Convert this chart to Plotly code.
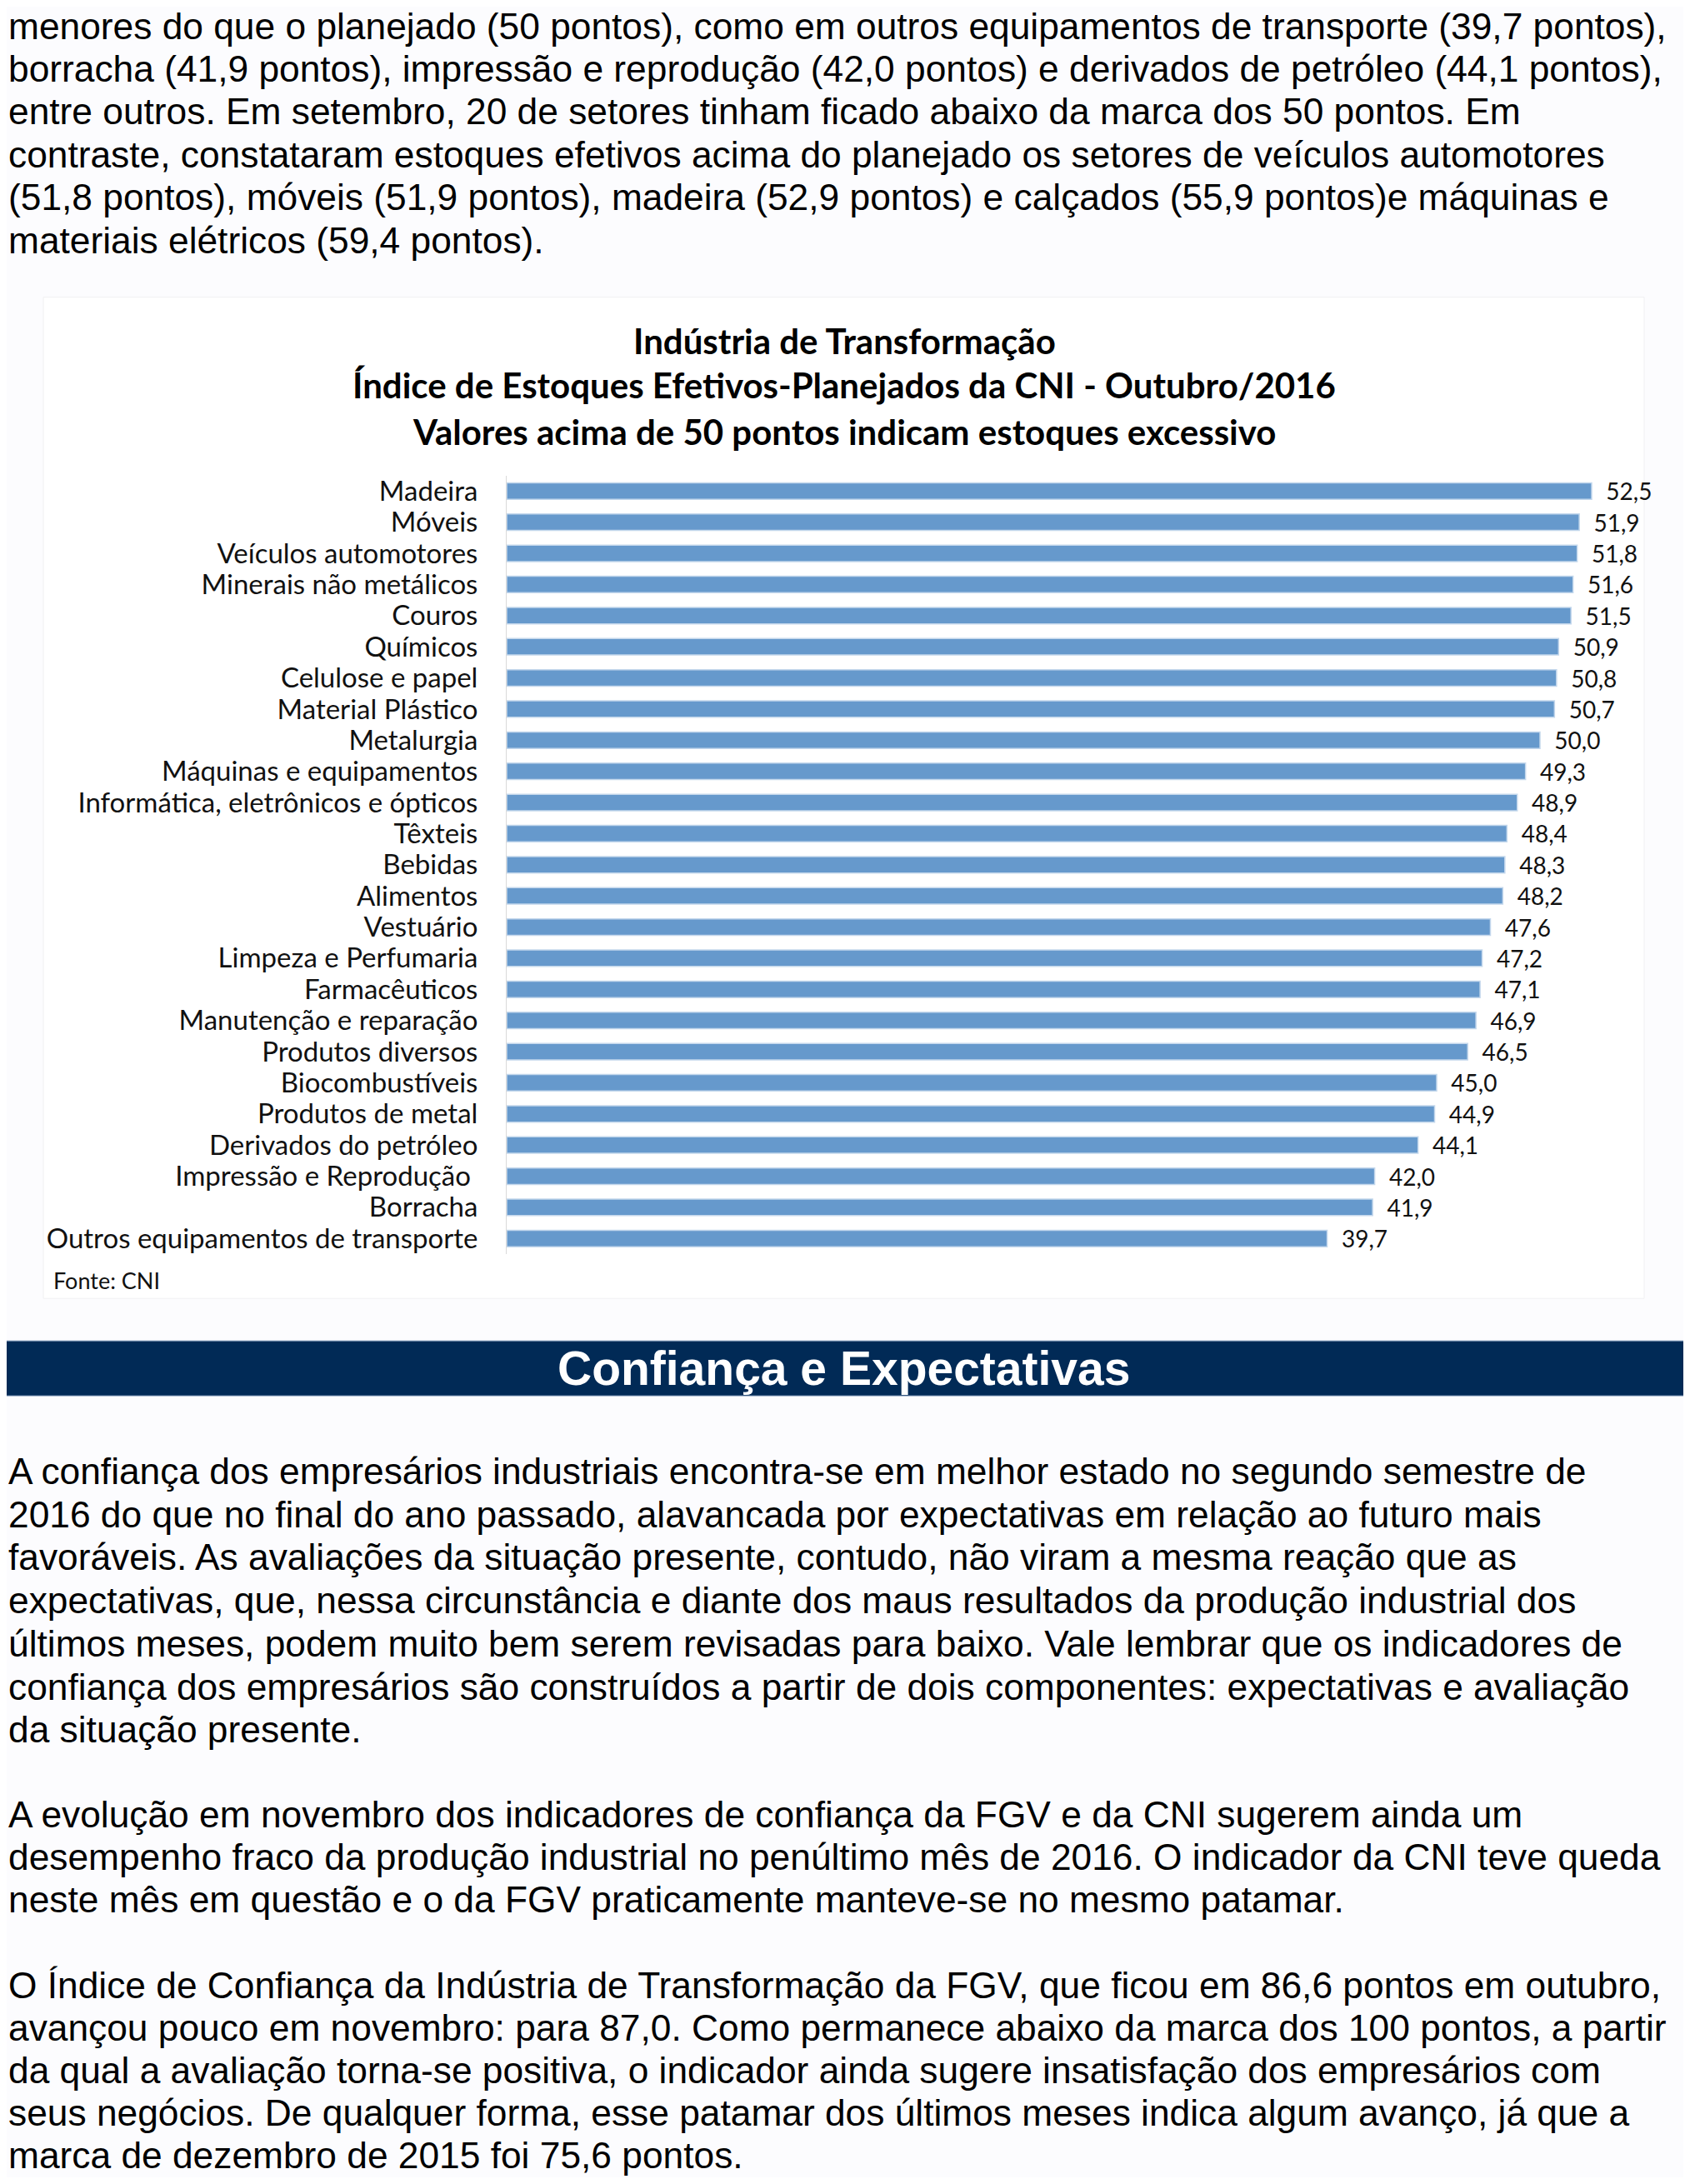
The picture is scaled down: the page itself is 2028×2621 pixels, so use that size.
import plotly.graph_objects as go

# page coordinates (reference pixels); the browser body adds an 8px margin
PAGE_W, PAGE_H = 2028, 2621
OFF = 8
W, H = PAGE_W - 2 * OFF, PAGE_H - 2 * OFF

categories = [
    "Madeira", "Móveis", "Veículos automotores", "Minerais não metálicos", "Couros",
    "Químicos", "Celulose e papel", "Material Plástico", "Metalurgia",
    "Máquinas e equipamentos", "Informática, eletrônicos e ópticos", "Têxteis",
    "Bebidas", "Alimentos", "Vestuário", "Limpeza e Perfumaria", "Farmacêuticos",
    "Manutenção e reparação", "Produtos diversos", "Biocombustíveis",
    "Produtos de metal", "Derivados do petróleo", "Impressão e Reprodução ",
    "Borracha", "Outros equipamentos de transporte",
]
values = [52.5, 51.9, 51.8, 51.6, 51.5, 50.9, 50.8, 50.7, 50.0, 49.3, 48.9, 48.4,
          48.3, 48.2, 47.6, 47.2, 47.1, 46.9, 46.5, 45.0, 44.9, 44.1, 42.0, 41.9, 39.7]

chart_title = [
    "Indústria de Transformação",
    "Índice de Estoques Efetivos-Planejados da CNI - Outubro/2016",
    "Valores acima de 50 pontos indicam estoques excessivo",
]
source_note = "Fonte: CNI"
section_title = "Confiança e Expectativas"

top_para = [
    "menores do que o planejado (50 pontos), como em outros equipamentos de transporte (39,7 pontos),",
    "borracha (41,9 pontos), impressão e reprodução (42,0 pontos) e derivados de petróleo (44,1 pontos),",
    "entre outros. Em setembro, 20 de setores tinham ficado abaixo da marca dos 50 pontos. Em",
    "contraste, constataram estoques efetivos acima do planejado os setores de veículos automotores",
    "(51,8 pontos), móveis (51,9 pontos), madeira (52,9 pontos) e calçados (55,9 pontos)e máquinas e",
    "materiais elétricos (59,4 pontos).",
]
para1 = [
    "A confiança dos empresários industriais encontra-se em melhor estado no segundo semestre de",
    "2016 do que no final do ano passado, alavancada por expectativas em relação ao futuro mais",
    "favoráveis. As avaliações da situação presente, contudo, não viram a mesma reação que as",
    "expectativas, que, nessa circunstância e diante dos maus resultados da produção industrial dos",
    "últimos meses, podem muito bem serem revisadas para baixo. Vale lembrar que os indicadores de",
    "confiança dos empresários são construídos a partir de dois componentes: expectativas e avaliação",
    "da situação presente.",
]
para2 = [
    "A evolução em novembro dos indicadores de confiança da FGV e da CNI sugerem ainda um",
    "desempenho fraco da produção industrial no penúltimo mês de 2016. O indicador da CNI teve queda",
    "neste mês em questão e o da FGV praticamente manteve-se no mesmo patamar.",
]
para3 = [
    "O Índice de Confiança da Indústria de Transformação da FGV, que ficou em 86,6 pontos em outubro,",
    "avançou pouco em novembro: para 87,0. Como permanece abaixo da marca dos 100 pontos, a partir",
    "da qual a avaliação torna-se positiva, o indicador ainda sugere insatisfação dos empresários com",
    "seus negócios. De qualquer forma, esse patamar dos últimos meses indica algum avanço, já que a",
    "marca de dezembro de 2015 foi 75,6 pontos.",
]


def px(x):
    return (x - OFF) / W


def py(y):
    return 1 - (y - OFF) / H


BAR = "#6699cc"
CHART_FONT = "Lato, Open Sans, sans-serif"
TEXT_FONT = "Liberation Sans, Arial, sans-serif"
TEXT_SIZE = 44.3

fig = go.Figure(
    go.Bar(
        y=categories,
        x=values,
        orientation="h",
        width=0.53,
        marker=dict(color=BAR, line=dict(color="#c3d7ec", width=1.5)),
        texttemplate="\u00a0\u00a0%{x:.1f}",
        textposition="outside",
        textangle=0,
        constraintext="none",
        cliponaxis=False,
        textfont=dict(family=CHART_FONT, size=28, color="#111111"),
        hoverinfo="skip",
    )
)

annotations = []
for i, line in enumerate(chart_title):
    annotations.append(dict(
        text=line, x=px(1013), y=py([406, 460, 516][i]), xref="paper", yref="paper",
        xanchor="center", yanchor="middle", showarrow=False,
        font=dict(family=CHART_FONT, size=42, color="#000000", weight=700),
    ))
annotations.append(dict(
    text=source_note, x=px(62), y=py(1535), xref="paper", yref="paper",
    xanchor="left", yanchor="middle", showarrow=False,
    font=dict(family=CHART_FONT, size=27, color="#111111"),
))
annotations.append(dict(
    text=section_title, x=px(1012), y=py(1641), xref="paper", yref="paper",
    xanchor="center", yanchor="middle", showarrow=False,
    font=dict(family=TEXT_FONT, size=57, color="#ffffff", weight=700),
))

blocks = [
    (top_para, [29, 80, 131, 183, 234, 286]),
    (para1, [1765, 1817, 1868, 1920, 1972, 2024, 2075]),
    (para2, [2177, 2228, 2279]),
    (para3, [2382, 2433, 2484, 2535, 2586]),
]
for lines, ys in blocks:
    for line, yy in zip(lines, ys):
        annotations.append(dict(
            text=line, x=0, y=py(yy), xref="paper", yref="paper",
            xanchor="left", yanchor="middle", showarrow=False,
            font=dict(family=TEXT_FONT, size=TEXT_SIZE, color="#000000"),
        ))

shapes = [
    dict(type="rect", xref="paper", yref="paper", x0=px(52), x1=px(1973),
         y0=py(1557), y1=py(354), fillcolor="#ffffff",
         line=dict(color="#f0f0f2", width=1), layer="below"),
    dict(type="rect", xref="paper", yref="paper", x0=-0.01, x1=1.01,
         y0=py(1674), y1=py(1608), fillcolor="#012a56",
         line=dict(color="#7f97b6", width=1), layer="below"),
]

fig.update_layout(
    width=W, height=H,
    margin=dict(l=0, r=0, t=0, b=0),
    paper_bgcolor="#fcfcfe",
    plot_bgcolor="rgba(0,0,0,0)",
    separators=",.",
    showlegend=False,
    xaxis=dict(domain=[px(608), px(608 + 55 * 24.8)], range=[0, 55], visible=False),
    yaxis=dict(
        domain=[py(1503.7), py(568.3)],
        categoryorder="array", categoryarray=categories,
        range=[24.5, -0.5],
        tickmode="array", tickvals=categories, ticktext=categories,
        showline=True, linecolor="#d9d9d9", linewidth=1,
        showgrid=False, zeroline=False, ticks="",
        ticklabelstandoff=27,
        tickfont=dict(family=CHART_FONT, size=33, color="#111111"),
    ),
    annotations=annotations,
    shapes=shapes,
)

fig.write_html("out.html")
